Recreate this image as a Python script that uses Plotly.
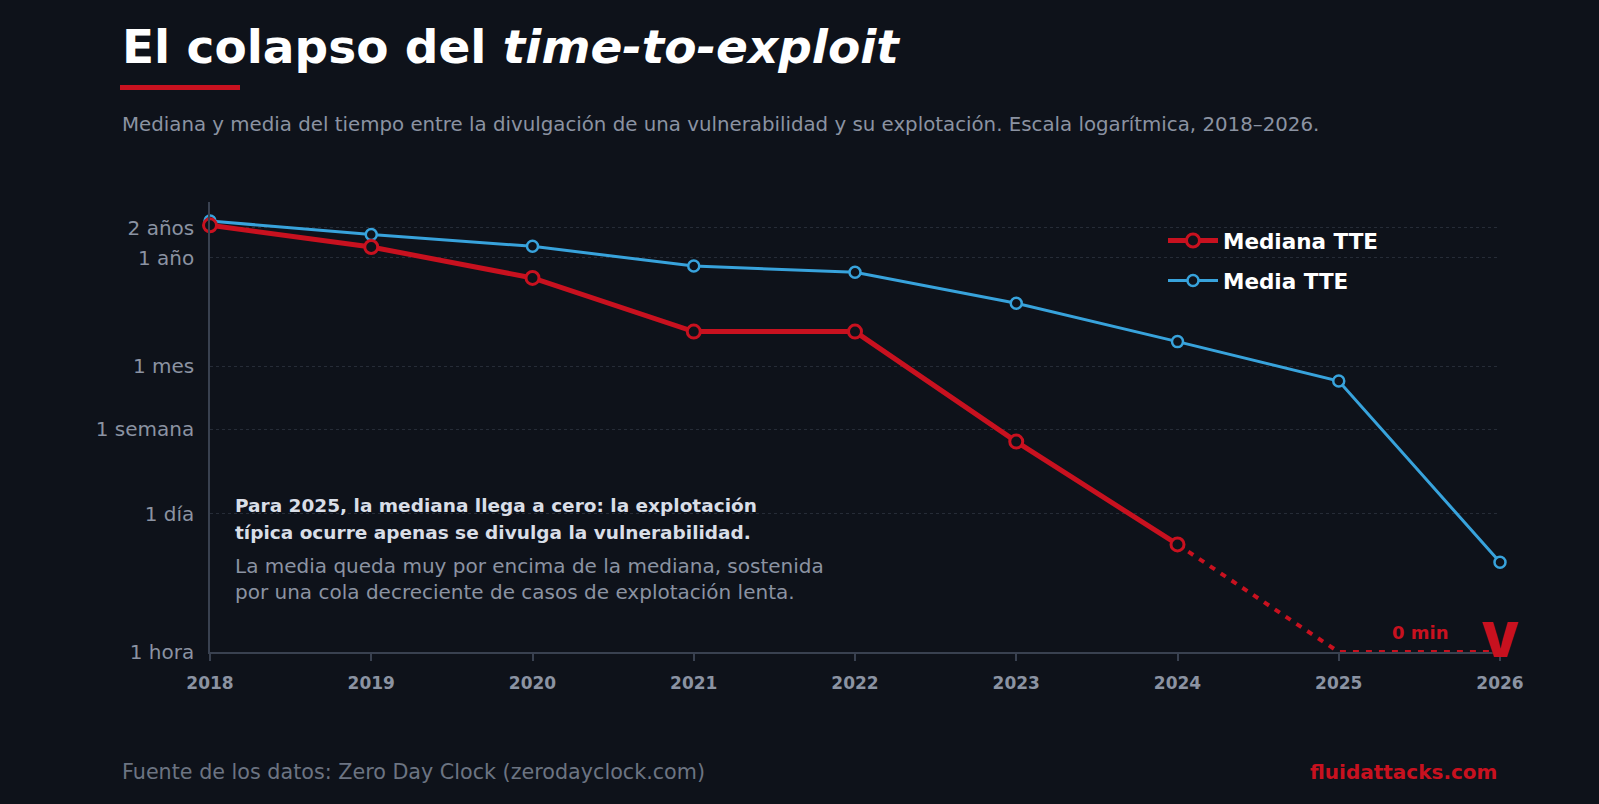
import plotly.graph_objects as go

# data (values in hours, log scale)
years = [2018, 2019, 2020, 2021, 2022, 2023, 2024, 2025, 2026]
median_hours = [18490, 11220, 5500, 1600, 1600, 127, 11.9, 0, 0]
mean_hours = [20420, 14930, 11400, 7240, 6270, 3070, 1270, 513, 7.9]

tick_hours = [1, 24, 168, 720, 8760, 17520]
tick_labels = ["1 hora", "1 día", "1 semana", "1 mes", "1 año", "2 años"]

BG = "#0e121a"
RED = "#c8111f"
BLUE = "#38a3dc"
GRAY = "#8b93a2"
AXIS = "#394150"
FONT = "DejaVu Sans"

W, H = 1599, 804
L, R, T, B = 210, 99, 202, 152
FLOOR = 1  # axis bottom (1 hora); zero values sit on it

def px(x):
    return (x - L) / (W - L - R)

def py(y):
    return (H - B - y) / (H - T - B)

solid_x = [y for y, v in zip(years, median_hours) if v > 0]
solid_y = [v for v in median_hours if v > 0]
last = len(solid_x) - 1
dot_x = years[last:]
dot_y = [v if v > 0 else FLOOR for v in median_hours[last:]]

fig = go.Figure()

fig.add_trace(go.Scatter(
    x=years, y=mean_hours, mode="lines+markers", name="Media TTE",
    legendgroup="b", legendrank=2,
    line=dict(color=BLUE, width=3),
    marker=dict(size=11, color=BG, line=dict(color=BLUE, width=2.5)),
    cliponaxis=False))

fig.add_trace(go.Scatter(
    x=dot_x, y=dot_y, mode="lines", showlegend=False,
    line=dict(color=RED, width=4, dash="6px,7px"), cliponaxis=False))

fig.add_trace(go.Scatter(
    x=solid_x, y=solid_y, mode="lines+markers", name="Mediana TTE",
    legendgroup="a", legendrank=1,
    line=dict(color=RED, width=5),
    marker=dict(size=13, color=BG, line=dict(color=RED, width=3)),
    cliponaxis=False))

fig.update_xaxes(
    range=[years[0], years[-1]], tickvals=years, showgrid=False,
    showline=True, linecolor=AXIS, linewidth=1.5,
    ticks="outside", ticklen=7, tickcolor=AXIS, tickwidth=1.5,
    ticklabelstandoff=8,
    tickfont=dict(family=FONT, size=17, color=GRAY, weight=600),
    zeroline=False)

fig.update_yaxes(
    type="log", range=[0, 4.5], tickvals=tick_hours, ticktext=tick_labels,
    showline=True, linecolor=AXIS, linewidth=1.5,
    showgrid=True, gridcolor="#262c37", griddash="dot", gridwidth=1,
    ticks="", ticklabelstandoff=10,
    tickfont=dict(family=FONT, size=20, color=GRAY),
    zeroline=False)

ann = [
    dict(x=px(120), y=py(47), text="<b>El colapso del <i>time-to-exploit</i></b>",
         font=dict(size=47, color="white")),
    dict(x=px(120), y=py(124),
         text="Mediana y media del tiempo entre la divulgación de una vulnerabilidad y su explotación. Escala logarítmica, 2018–2026.",
         font=dict(size=19.8, color=GRAY)),
    dict(x=px(233), y=py(505), text="Para 2025, la mediana llega a cero: la explotación",
         font=dict(size=18.5, color="#d9dee7", weight=600)),
    dict(x=px(233), y=py(532), text="típica ocurre apenas se divulga la vulnerabilidad.",
         font=dict(size=18.5, color="#d9dee7", weight=600)),
    dict(x=px(233), y=py(566), text="La media queda muy por encima de la mediana, sostenida",
         font=dict(size=20, color=GRAY)),
    dict(x=px(233), y=py(592), text="por una cola decreciente de casos de explotación lenta.",
         font=dict(size=20, color=GRAY)),
    dict(x=px(120), y=py(772), text="Fuente de los datos: Zero Day Clock (zerodayclock.com)",
         font=dict(size=20.7, color="#6c7482")),
    dict(x=px(1499), y=py(772), text="<b>fluidattacks.com</b>", xanchor="right",
         font=dict(size=20, color=RED)),
    dict(x=px(1420), y=py(632), text="<b>0 min</b>", xanchor="center",
         font=dict(size=18, color=RED)),
]
for a in ann:
    a.setdefault("xanchor", "left")
    a["font"].setdefault("family", FONT)
    fig.add_annotation(xref="paper", yref="paper", yanchor="middle",
                       showarrow=False, **a)

# chevron marking the zero at the end of the median series
fig.add_annotation(x=years[-1], y=0, xref="x", yref="y", text="V",
                   showarrow=False, yshift=13,
                   font=dict(family="Inter", size=48, color=RED, weight=900))

fig.add_shape(type="rect", xref="paper", yref="paper",
              x0=px(120), x1=px(240), y0=py(85), y1=py(90),
              fillcolor=RED, line_width=0)

fig.update_layout(
    width=W, height=H,
    margin=dict(l=L, r=R, t=T, b=B),
    paper_bgcolor=BG, plot_bgcolor=BG,
    font=dict(family=FONT, color=GRAY),
    showlegend=True,
    legend=dict(x=px(1163), y=py(220), xanchor="left", yanchor="top",
                bgcolor="rgba(0,0,0,0)", tracegroupgap=9, itemwidth=50,
                font=dict(family=FONT, size=21.5, color="white", weight=700)),
)

fig.write_html("out.html", config={"displayModeBar": False},
               post_script="document.body.style.margin='0';"
                           "document.body.style.background='%s';" % BG)
